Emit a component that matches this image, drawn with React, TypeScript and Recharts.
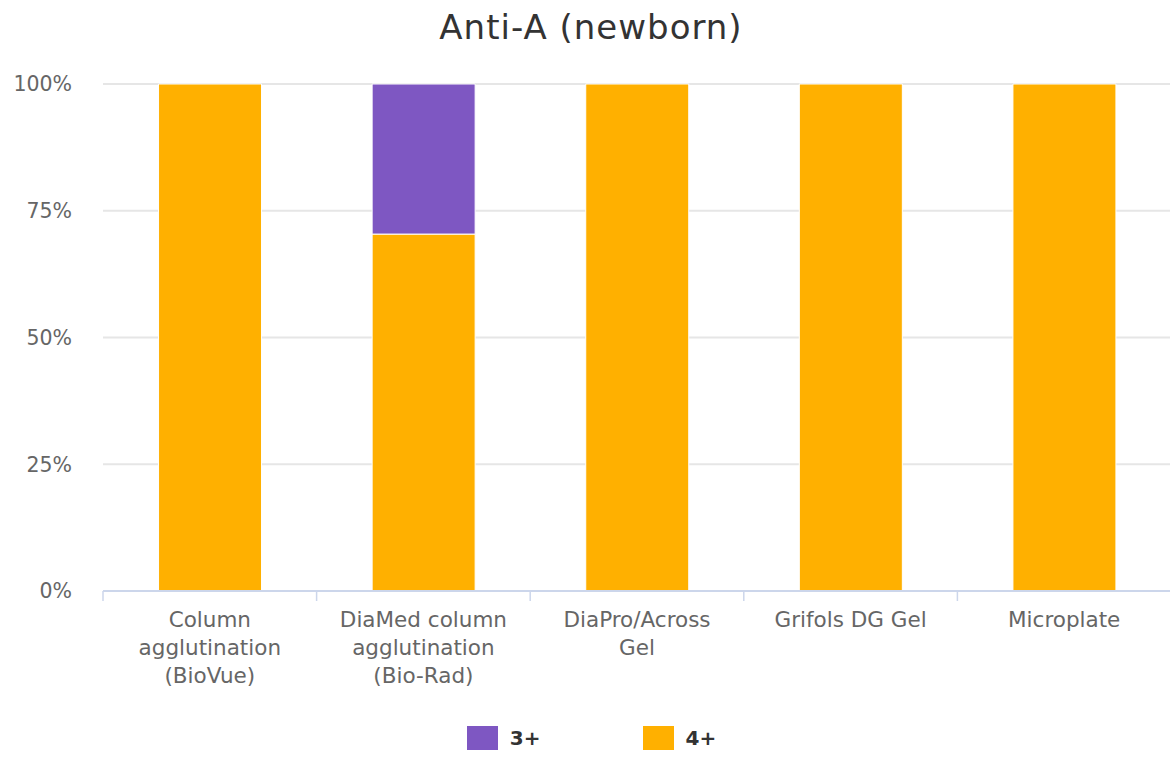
import React from 'react';
import { BarChart, Bar, XAxis, YAxis, CartesianGrid, Legend } from 'recharts';

const categories = [
  'Column\nagglutination\n(BioVue)',
  'DiaMed column\nagglutination\n(Bio-Rad)',
  'DiaPro/Across\nGel',
  'Grifols DG Gel',
  'Microplate',
];
const series3 = [0, 29.6, 0, 0, 0];
const series4 = [100, 70.4, 100, 100, 100];
const yTicks = [0, 25, 50, 75, 100];

const COLOR3 = '#7E57C2';
const COLOR4 = '#FFB000';
const FONT = '"DejaVu Sans", sans-serif';

const data = categories.map((c, i) => ({ name: c, s3: series3[i], s4: series4[i] }));

const XTick = (props: any) => {
  const { x, y, payload } = props;
  const lines = String(payload.value).split('\n');
  const off = payload.offset || 0;
  return (
    <g>
      <line x1={x - off} x2={x - off} y1={y} y2={y + 10} stroke="#ccd6eb" strokeWidth={1.5} />
      <text x={x} y={y} textAnchor="middle" fill="#666666" fontSize={21.5} fontFamily={FONT}>
        {lines.map((l, i) => (
          <tspan key={i} x={x} dy={i === 0 ? 36 : 28}>{l}</tspan>
        ))}
      </text>
    </g>
  );
};

const LegendContent = () => (
  <div style={{ display: 'flex', justifyContent: 'center', alignItems: 'center', height: 24, fontFamily: FONT, fontSize: 20, fontWeight: 'bold', color: '#333333', paddingLeft: 12 }}>
    {[{ n: '3+', c: COLOR3 }, { n: '4+', c: COLOR4 }].map((it, i) => (
      <div key={it.n} style={{ display: 'flex', alignItems: 'center', marginLeft: i === 0 ? 0 : 102 }}>
        <div style={{ width: 31, height: 24, background: it.c, marginRight: 12 }} />
        <span>{it.n}</span>
      </div>
    ))}
  </div>
);

export default function App() {
  return (
    <div style={{ position: 'relative', width: 1170, height: 761, background: '#fff' }}>
      <style>{'body{margin:0}'}</style>
      <div style={{ position: 'absolute', top: 7, left: 6, width: 1170, textAlign: 'center', fontFamily: FONT, fontSize: 34, letterSpacing: 1, color: '#333333', lineHeight: 'normal' }}>
        Anti-A (newborn)
      </div>
      <BarChart width={1170} height={761} data={data} margin={{ top: 84, right: -1, bottom: 0, left: 0 }} barCategoryGap="26%">
        <CartesianGrid vertical={false} stroke="#e6e6e6" strokeWidth={2} />
        <XAxis dataKey="name" tick={<XTick />} tickLine={false} tickSize={0} tickMargin={0} axisLine={{ stroke: '#ccd6eb', strokeWidth: 2 }} interval={0} height={146} />
        <YAxis domain={[0, 100]} ticks={yTicks} tickFormatter={(v: number) => v + '%'} width={103} axisLine={false} tickLine={false} tickSize={0} tickMargin={31} tick={{ fill: '#666666', fontSize: 20.5, fontFamily: FONT }} />
        <Legend verticalAlign="bottom" content={<LegendContent />} wrapperStyle={{ bottom: 11 }} />
        <Bar dataKey="s4" stackId="a" fill={COLOR4} stroke="#ffffff" strokeWidth={1} isAnimationActive={false} />
        <Bar dataKey="s3" stackId="a" fill={COLOR3} stroke="#ffffff" strokeWidth={1} isAnimationActive={false} />
      </BarChart>
    </div>
  );
}
